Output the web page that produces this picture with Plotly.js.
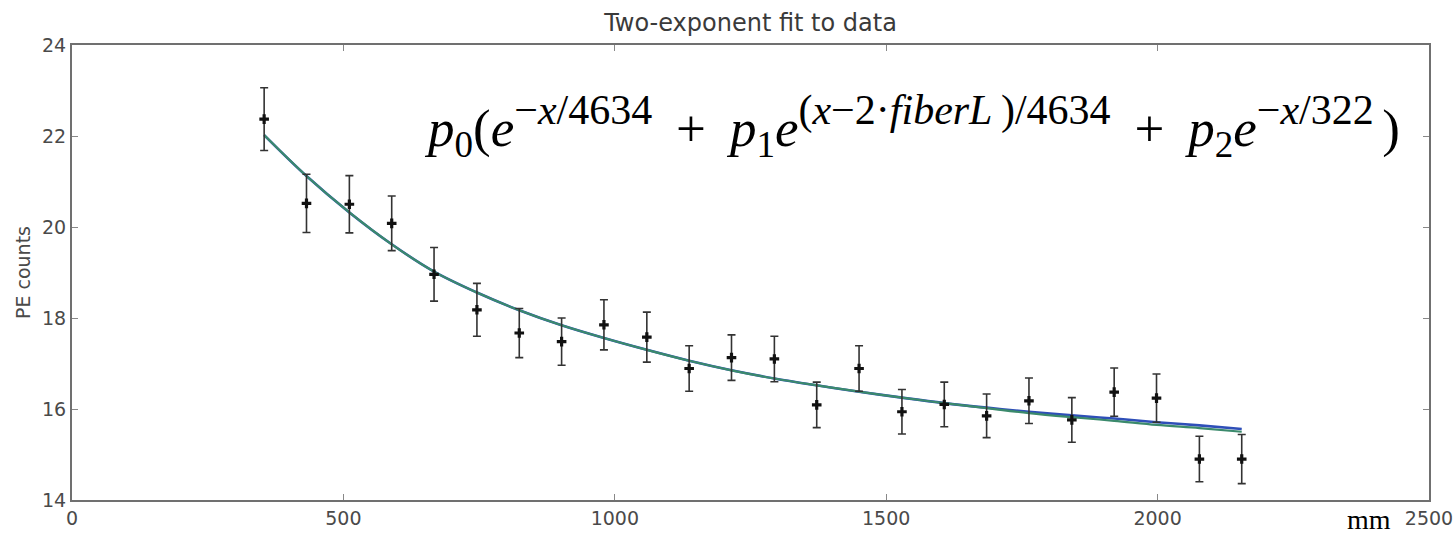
<!DOCTYPE html>
<html>
<head>
<meta charset="utf-8">
<script src="https://cdn.plot.ly/plotly-3.0.1.min.js"></script>
<style>
  html, body { margin: 0; padding: 0; background: #ffffff; }
  #chart { width: 1456px; height: 535px; }
</style>
</head>
<body>
<div id="chart"></div>
<script>
// Positions along the fiber (mm)
var positionsMm = [354, 432, 511, 589, 667, 746, 824, 902, 980, 1059, 1137, 1215,
                   1294, 1372, 1450, 1529, 1607, 1685, 1763, 1842, 1920, 1998, 2077, 2155];
// Measured PE counts
var peCounts = [22.37, 20.52, 20.50, 20.08, 18.96, 18.18, 17.67, 17.48, 17.85, 17.58, 16.89, 17.13,
                17.10, 16.09, 16.89, 15.94, 16.10, 15.85, 16.18, 15.76, 16.37, 16.24, 14.90, 14.90];
// Error bar half-lengths
var peErrors = [0.69, 0.64, 0.63, 0.60, 0.59, 0.58, 0.54, 0.52, 0.55, 0.55, 0.50, 0.50,
                0.50, 0.50, 0.50, 0.49, 0.49, 0.48, 0.50, 0.49, 0.53, 0.53, 0.50, 0.54];
var fitGreen = [22.02, 21.12, 20.32, 19.62, 19.02, 18.56, 18.17, 17.84, 17.56, 17.30, 17.06, 16.85,
                16.67, 16.52, 16.38, 16.25, 16.13, 16.02, 15.91, 15.82, 15.74, 15.65, 15.58, 15.50];
var fitBlue  = [22.02, 21.12, 20.32, 19.62, 19.02, 18.56, 18.17, 17.84, 17.56, 17.30, 17.06, 16.85,
                16.67, 16.52, 16.38, 16.25, 16.13, 16.03, 15.94, 15.86, 15.79, 15.71, 15.64, 15.56];

var xTicks = [0, 500, 1000, 1500, 2000, 2500];
var yTicks = [14, 16, 18, 20, 22, 24];

var titleText = 'Two-exponent fit to data';
var yTitleText = 'PE counts';
var unitText = 'mm';
var SUP = function (s) { return '<sup><span style="font-size:42px">' + s + '</span></sup>'; };
var formulaText = '<i>p</i><sub>0</sub>(<i>e</i>' + SUP('\u2212<i>x</i>/4634') +
  ' \u2009+\u2009 <i>p</i><sub>1</sub><i>e</i>' + SUP('(<i>x</i>\u22122\u00b7<i>fiberL</i>\u2009)/4634') +
  ' \u2009+\u2009 <i>p</i><sub>2</sub><i>e</i>' + SUP('\u2212<i>x</i>/322\u2009') + ')';

var traces = [
  {
    x: positionsMm, y: fitBlue, type: 'scatter', mode: 'lines',
    line: { color: '#2f4fb8', width: 2.6, shape: 'spline' },
    hoverinfo: 'skip', showlegend: false
  },
  {
    x: positionsMm, y: fitGreen, type: 'scatter', mode: 'lines',
    line: { color: '#3b8a6c', width: 2.2, shape: 'spline' },
    hoverinfo: 'skip', showlegend: false
  },
  {
    x: positionsMm, y: peCounts, type: 'scatter', mode: 'markers',
    marker: { symbol: 'cross', size: 8, color: '#111111' },
    error_y: { type: 'data', array: peErrors, visible: true, color: '#333333', thickness: 1.6, width: 4 },
    showlegend: false
  }
];

var axisCommon = {
  showgrid: false, zeroline: false, showline: true, linecolor: '#707070', linewidth: 2,
  mirror: 'ticks', ticks: 'inside', ticklen: 6, tickwidth: 1, tickcolor: '#888888',
  tickfont: { family: 'DejaVu Sans', size: 19, color: '#4a4a4a' }
};

var layout = {
  width: 1456, height: 535,
  margin: { l: 72, r: 27, t: 45, b: 35 },
  paper_bgcolor: '#ffffff', plot_bgcolor: '#ffffff',
  title: {
    text: titleText, xref: 'paper', x: 0.5, xanchor: 'center', y: 0.958, yanchor: 'middle',
    font: { family: 'DejaVu Sans', size: 24, color: '#3a3a3a' }
  },
  xaxis: Object.assign({}, axisCommon, {
    range: [0, 2500], tickmode: 'array', tickvals: xTicks, ticktext: xTicks.map(String)
  }),
  yaxis: Object.assign({}, axisCommon, {
    range: [14, 24], tickmode: 'array', tickvals: yTicks, ticktext: yTicks.map(String),
    title: { text: yTitleText, standoff: 6, font: { family: 'DejaVu Sans', size: 19, color: '#4a4a4a' } }
  }),
  annotations: [
    {
      text: formulaText, xref: 'paper', yref: 'paper', x: 0.258, y: 0.822,
      xanchor: 'left', yanchor: 'middle', showarrow: false,
      font: { family: 'Liberation Serif', size: 53, color: '#000000' }
    },
    {
      text: unitText, xref: 'paper', yref: 'paper', x: 0.956, y: -0.042,
      xanchor: 'center', yanchor: 'middle', showarrow: false,
      font: { family: 'Liberation Serif', size: 28, color: '#000000' }
    }
  ]
};

Plotly.newPlot('chart', traces, layout, { displayModeBar: false, staticPlot: true });
</script>
</body>
</html>
